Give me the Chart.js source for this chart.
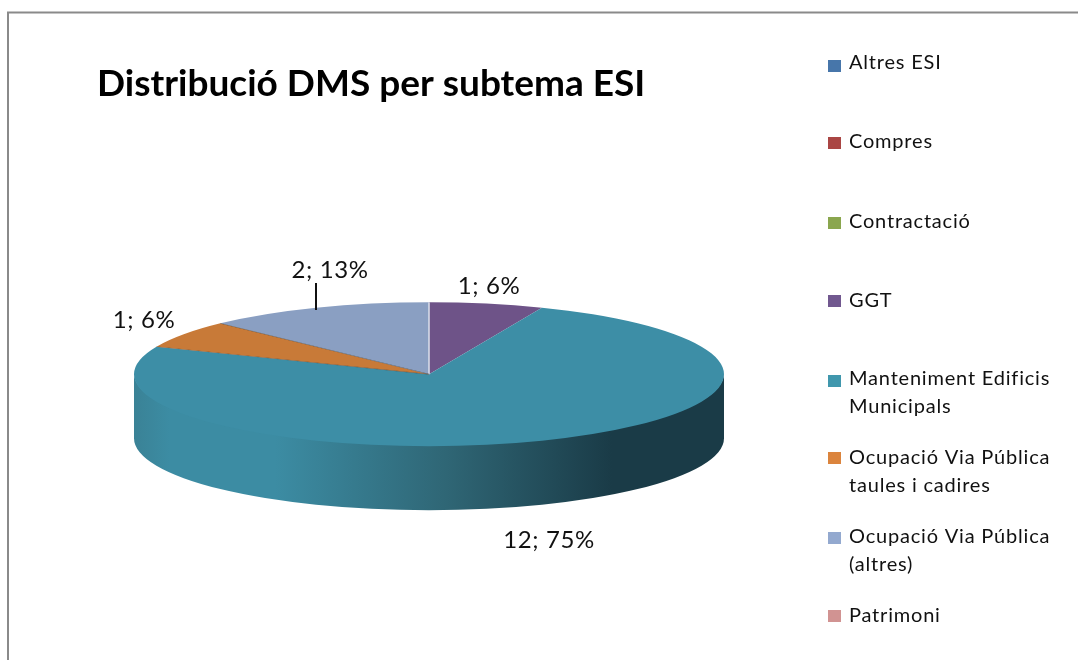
<!DOCTYPE html>
<html><head><meta charset="utf-8">
<style>html,body{margin:0;padding:0;background:#fff}canvas{display:block;filter:blur(0.45px)}</style>
<script src="https://cdn.jsdelivr.net/npm/chart.js@4"></script>
</head><body>
<canvas id="c" width="1078" height="660"></canvas>
<script>
const titleText = 'Distribució DMS per subtema ESI';
const categories = ['Altres ESI','Compres','Contractació','GGT','Manteniment Edificis Municipals','Ocupació Via Pública taules i cadires','Ocupació Via Pública (altres)','Patrimoni'];
const legendLines = [['Altres ESI'],['Compres'],['Contractació'],['GGT'],['Manteniment Edificis','Municipals'],['Ocupació Via Pública','taules i cadires'],['Ocupació Via Pública','(altres)'],['Patrimoni']];
const values = [0,0,0,1,12,1,2,0];
const sliceColors = ['#4a7ebb','#b04a48','#8ca850','#6e5388','#3d8ea6','#c87a38','#8a9fc2','#d09695'];
const swatchColors = ['#4776aa','#aa4644','#8aa64e','#71588f','#4097ad','#db843d','#93a9cf','#d19392'];

const FONT = 'Lato';
const PIE = {cx:429, cy:374, rx:295, ry:72, depth:64};
const legendY = [[63],[142],[222],[301],[379,407],[458,486],[537,565],[616]];
const swatchY = [66,143,223,301,381,458,538,616];
const dataLabelPos = {3:[489,286],4:[549,540],5:[144,320],6:[330,270]};

const pie3d = {
  id:'pie3d',
  beforeDraw(chart){
    const {ctx}=chart;
    ctx.save();
    ctx.fillStyle='#fff';ctx.fillRect(0,0,1078,660);
    ctx.strokeStyle='#8a8a8a';ctx.lineWidth=2;
    ctx.beginPath();ctx.moveTo(8,660);ctx.lineTo(8,12.5);ctx.lineTo(1078,12.5);ctx.stroke();
    ctx.restore();
  },
  beforeDatasetsDraw(chart){
    const {ctx}=chart;
    const arcs=chart.getDatasetMeta(0).data;
    const {rx,ry,depth}=PIE;
    const p=arcs[0];
    const g=ctx.createLinearGradient(p.x-rx,0,p.x+rx,0);
    g.addColorStop(0,'#3a8296');
    g.addColorStop(0.06,'#3c8ca3');
    g.addColorStop(0.24,'#3c8ca3');
    g.addColorStop(0.53,'#2f6675');
    g.addColorStop(0.81,'#1a3b47');
    g.addColorStop(1,'#1a3b47');
    arcs.forEach(a=>{
      if(a.endAngle-a.startAngle<=0)return;
      const s=Math.max(a.startAngle,0), e=Math.min(a.endAngle,Math.PI);
      if(e<=s)return;
      ctx.save();
      ctx.beginPath();
      ctx.ellipse(a.x,a.y-1,rx,ry,0,s,e,false);
      ctx.ellipse(a.x,a.y+depth,rx,ry,0,e,s,true);
      ctx.closePath();
      ctx.fillStyle=g;ctx.fill();
      ctx.restore();
    });
    ctx.save();
    ctx.translate(p.x,p.y);ctx.scale(1,ry/rx);ctx.translate(-p.x,-p.y);
  },
  afterDatasetsDraw(chart){
    const {ctx}=chart;
    const arcs=chart.getDatasetMeta(0).data;
    arcs.forEach((a,i)=>{
      if(a.endAngle-a.startAngle<=0||i===4)return;
      const x=a.x+a.outerRadius*Math.cos(a.startAngle), y=a.y+a.outerRadius*Math.sin(a.startAngle);
      ctx.beginPath();ctx.moveTo(a.x,a.y);ctx.lineTo(x,y);
      ctx.lineWidth=1.6;
      ctx.strokeStyle=i===3?'#d6dbe8':'rgba(70,60,50,.75)';
      ctx.stroke();
    });
    ctx.restore();
    ctx.save();
    // data labels
    ctx.fillStyle='#111';ctx.font='24px '+FONT;ctx.letterSpacing='0.6px';ctx.textAlign='center';ctx.textBaseline='middle';
    const total=values.reduce((a,b)=>a+b,0);
    values.forEach((v,i)=>{
      if(!v)return;
      const [x,y]=dataLabelPos[i];
      ctx.fillText(v+'; '+Math.round(v/total*100)+'%',x,y);
    });
    ctx.strokeStyle='#111';ctx.lineWidth=2;
    ctx.beginPath();ctx.moveTo(316,283);ctx.lineTo(316,310);ctx.stroke();
    // legend
    ctx.textAlign='left';ctx.font='20px '+FONT;ctx.letterSpacing='0.8px';
    categories.forEach((c,i)=>{
      ctx.fillStyle=swatchColors[i];
      ctx.fillRect(828,swatchY[i]-6,13,12);
      ctx.fillStyle='#111';
      legendLines[i].forEach((t,j)=>ctx.fillText(t,849,legendY[i][j]));
    });
    ctx.restore();
  }
};

new Chart(document.getElementById('c'),{
  type:'pie',
  data:{labels:categories,datasets:[{data:values,backgroundColor:sliceColors,borderWidth:0,clip:false}]},
  options:{
    responsive:false,animation:false,radius:PIE.rx,
    layout:{padding:{left:97,right:317,top:62,bottom:18}},
    plugins:{
      legend:{display:false},tooltip:{enabled:false},
      title:{display:true,text:titleText,align:'start',color:'#000',font:{family:FONT,size:37,weight:'bold'},padding:{top:0,bottom:0}}
    }
  },
  plugins:[pie3d]
});
</script>
</body></html>
